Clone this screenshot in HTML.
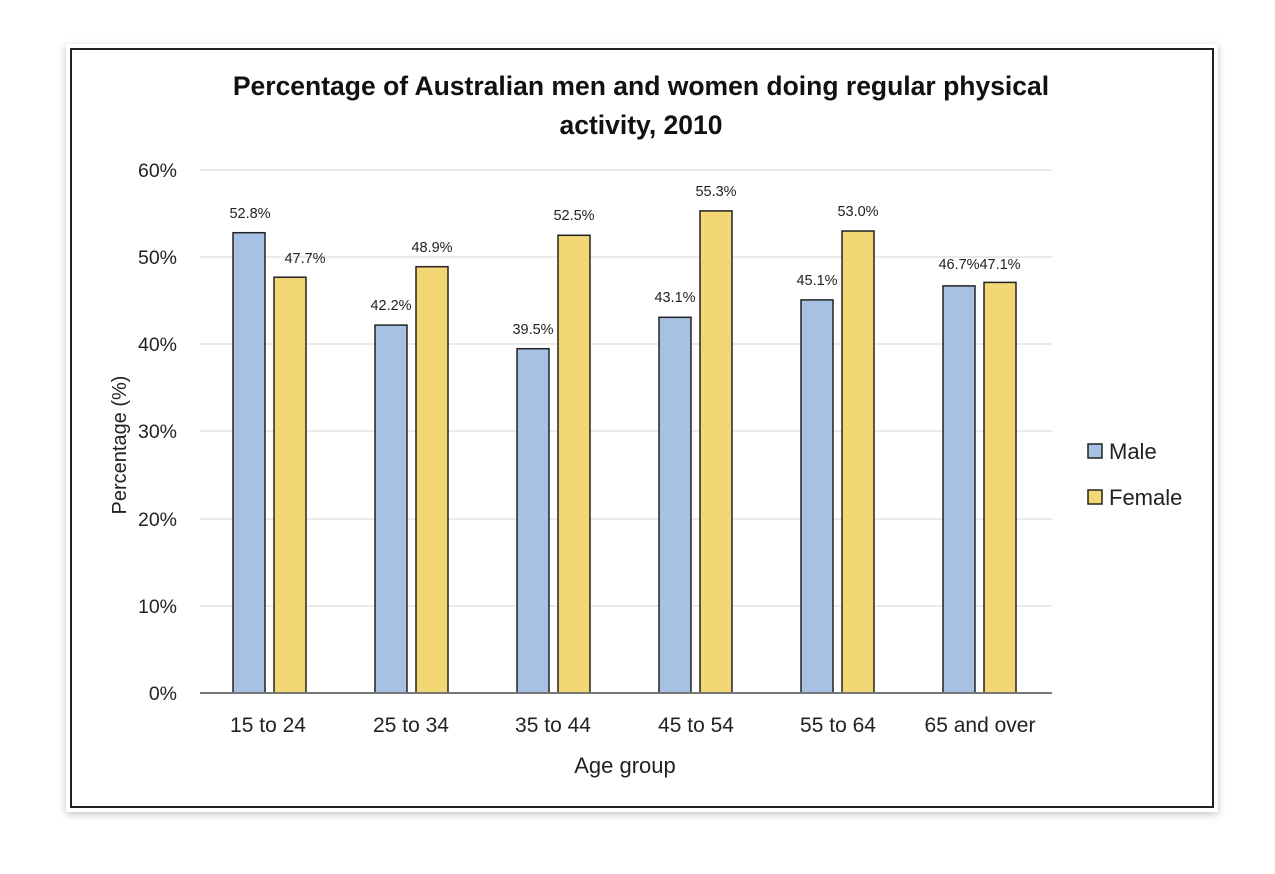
<!DOCTYPE html>
<html><head><meta charset="utf-8"><style>
html,body{margin:0;padding:0;background:#fff;}
svg{display:block;font-family:"Liberation Sans",sans-serif;}
</style></head><body>
<svg width="1275" height="874" viewBox="0 0 1275 874" xmlns="http://www.w3.org/2000/svg">
<defs><filter id="sh" x="-5%" y="-5%" width="110%" height="110%"><feGaussianBlur stdDeviation="4"/></filter></defs>
<rect x="66" y="46" width="1152" height="768" fill="#999" filter="url(#sh)" opacity="0.6"/>
<rect x="66" y="44" width="1152" height="768" fill="#fff"/>
<rect x="71" y="49" width="1142" height="758" fill="#fff" stroke="#222" stroke-width="2"/>
<text x="641" y="95" text-anchor="middle" font-size="26.5" font-weight="bold" fill="#111">Percentage of Australian men and women doing regular physical</text>
<text x="641" y="134" text-anchor="middle" font-size="26.5" font-weight="bold" fill="#111">activity, 2010</text>
<g stroke="#e4e4e4" stroke-width="1.5">
<line x1="200" y1="170" x2="1052" y2="170"/><line x1="200" y1="257" x2="1052" y2="257"/>
<line x1="200" y1="344" x2="1052" y2="344"/><line x1="200" y1="431" x2="1052" y2="431"/>
<line x1="200" y1="519" x2="1052" y2="519"/><line x1="200" y1="606" x2="1052" y2="606"/>
</g>
<g font-size="19.5" fill="#222" text-anchor="end">
<text x="177" y="177">60%</text><text x="177" y="264">50%</text><text x="177" y="351">40%</text>
<text x="177" y="438">30%</text><text x="177" y="526">20%</text><text x="177" y="613">10%</text><text x="177" y="700">0%</text>
</g>
<text transform="translate(126,445) rotate(-90)" text-anchor="middle" font-size="20" fill="#222">Percentage (%)</text>
<g stroke="#222" stroke-width="1.5">
<rect x="233" y="232.7" width="32" height="460.3" fill="#a6c1e3"/>
<rect x="274" y="277.2" width="32" height="415.8" fill="#f3d774"/>
<rect x="375" y="325.1" width="32" height="367.9" fill="#a6c1e3"/>
<rect x="416" y="266.7" width="32" height="426.3" fill="#f3d774"/>
<rect x="517" y="348.7" width="32" height="344.3" fill="#a6c1e3"/>
<rect x="558" y="235.3" width="32" height="457.7" fill="#f3d774"/>
<rect x="659" y="317.3" width="32" height="375.7" fill="#a6c1e3"/>
<rect x="700" y="210.9" width="32" height="482.1" fill="#f3d774"/>
<rect x="801" y="299.9" width="32" height="393.1" fill="#a6c1e3"/>
<rect x="842" y="231.0" width="32" height="462.0" fill="#f3d774"/>
<rect x="943" y="285.9" width="32" height="407.1" fill="#a6c1e3"/>
<rect x="984" y="282.4" width="32" height="410.6" fill="#f3d774"/>
</g>
<line x1="200" y1="693" x2="1052" y2="693" stroke="#777" stroke-width="2"/>
<g font-size="14.5" fill="#222" text-anchor="middle">
<text x="250" y="218">52.8%</text><text x="305" y="263">47.7%</text>
<text x="391" y="310">42.2%</text><text x="432" y="252">48.9%</text>
<text x="533" y="334">39.5%</text><text x="574" y="220">52.5%</text>
<text x="675" y="302">43.1%</text><text x="716" y="196">55.3%</text>
<text x="817" y="285">45.1%</text><text x="858" y="216">53.0%</text>
<text x="959" y="269">46.7%</text><text x="1000" y="269">47.1%</text>
</g>
<g font-size="21" fill="#222" text-anchor="middle">
<text x="268" y="732">15 to 24</text><text x="411" y="732">25 to 34</text><text x="553" y="732">35 to 44</text>
<text x="696" y="732">45 to 54</text><text x="838" y="732">55 to 64</text><text x="980" y="732">65 and over</text>
</g>
<text x="625" y="773" text-anchor="middle" font-size="22" fill="#222">Age group</text>
<rect x="1088" y="444" width="14" height="14" fill="#a6c1e3" stroke="#222" stroke-width="1.5"/>
<text x="1109" y="459" font-size="22" fill="#222">Male</text>
<rect x="1088" y="490" width="14" height="14" fill="#f3d774" stroke="#222" stroke-width="1.5"/>
<text x="1109" y="505" font-size="22" fill="#222">Female</text>
</svg>
</body></html>
